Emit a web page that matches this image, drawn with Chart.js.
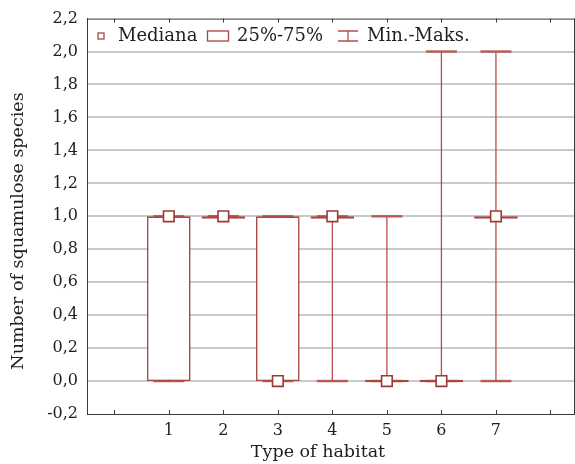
<!DOCTYPE html>
<html>
<head>
<meta charset="utf-8">
<script src="https://cdn.jsdelivr.net/npm/chart.js@4/dist/chart.umd.min.js"></script>
<style>
  html, body { margin: 0; padding: 0; background: #fff; }
  #wrap { width: 575px; height: 464px; position: relative; }
</style>
</head>
<body>
<div id="wrap"><canvas id="c" width="575" height="464"></canvas></div>
<script>
// ---- data ----
const habitats = [1, 2, 3, 4, 5, 6, 7];
const medians  = [1, 1, 0, 1, 0, 0, 1];
const q25      = [0, 1, 0, 1, 0, 0, 1];
const q75      = [1, 1, 1, 1, 0, 0, 1];
const mins     = [0, 1, 0, 0, 0, 0, 0];
const maxs     = [1, 1, 1, 1, 1, 2, 2];
const xTickLabels = ['1', '2', '3', '4', '5', '6', '7'];
const legendLabels = ['Mediana', '25%-75%', 'Min.-Maks.'];
const xTitle = 'Type of habitat';
const yTitle = 'Number of squamulose species';

// ---- styles ----
const FONT = '"DejaVu Serif", "Liberation Serif", serif';
const BOX_COLOR = '#a8463f';
const WHISKER_COLOR = '#b5504a';
const TEXT_COLOR = '#1e1e1e';
const AXIS_COLOR = '#3a3a3a';
const GRID_COLOR = '#c9c9c9';

const boxData = habitats.map((h, i) => ({ x: h, y: [q25[i], q75[i]] }));
const medianData = habitats.map((h, i) => ({ x: h, y: medians[i] }));

const whiskerPlugin = {
  id: 'whiskers',
  beforeDatasetsDraw(chart) {
    const { ctx, scales: { x, y } } = chart;
    ctx.save();
    habitats.forEach((h, i) => {
      const px = x.getPixelForValue(h);
      const yMin = y.getPixelForValue(mins[i]);
      const yMax = y.getPixelForValue(maxs[i]);
      ctx.strokeStyle = WHISKER_COLOR;
      ctx.lineWidth = 1.3;
      ctx.beginPath();
      ctx.moveTo(px, yMin);
      ctx.lineTo(px, yMax);
      ctx.stroke();
      ctx.lineWidth = 2.4;
      ctx.strokeStyle = '#b85a54';
      [yMin, yMax].forEach(py => {
        ctx.beginPath();
        ctx.moveTo(px - 15.5, py);
        ctx.lineTo(px + 15.5, py);
        ctx.stroke();
      });
    });
    ctx.restore();
  }
};

const framePlugin = {
  id: 'frame',
  afterDatasetsDraw(chart) {
    const { ctx, chartArea: a, scales: { x, y } } = chart;
    ctx.save();
    ctx.strokeStyle = AXIS_COLOR;
    ctx.lineWidth = 1;
    ctx.beginPath();
    ctx.moveTo(a.left, a.top + 0.5);
    ctx.lineTo(a.right, a.top + 0.5);
    ctx.moveTo(a.right - 0.5, a.top);
    ctx.lineTo(a.right - 0.5, a.bottom);
    ctx.stroke();
    // inward ticks on top and bottom
    ctx.beginPath();
    for (let v = 0; v <= 8; v++) {
      const px = Math.round(x.getPixelForValue(v)) + 0.5;
      ctx.moveTo(px, a.bottom);
      ctx.lineTo(px, a.bottom - 4);
      ctx.moveTo(px, a.top);
      ctx.lineTo(px, a.top + 4);
    }
    ctx.stroke();

    // legend
    const ly = 36;
    ctx.font = '18px ' + FONT;
    ctx.textBaseline = 'middle';
    ctx.textAlign = 'left';
    ctx.strokeStyle = BOX_COLOR;
    ctx.lineWidth = 1.3;
    ctx.fillStyle = '#fff';
    ctx.fillRect(98, ly - 3, 6, 6);
    ctx.strokeRect(98, ly - 3, 6, 6);
    ctx.fillStyle = TEXT_COLOR;
    ctx.fillText(legendLabels[0], 118, ly);
    ctx.strokeRect(207.5, ly - 5, 21, 10);
    ctx.fillText(legendLabels[1], 237, ly);
    ctx.strokeStyle = WHISKER_COLOR;
    ctx.beginPath();
    ctx.moveTo(338, ly - 5); ctx.lineTo(358, ly - 5);
    ctx.moveTo(338, ly + 5); ctx.lineTo(358, ly + 5);
    ctx.moveTo(348, ly - 5); ctx.lineTo(348, ly + 5);
    ctx.stroke();
    ctx.fillText(legendLabels[2], 367, ly);

    // axis titles
    ctx.font = '17.5px ' + FONT;
    ctx.textAlign = 'center';
    ctx.fillText(xTitle, 318, 452);
    ctx.translate(18, 231);
    ctx.rotate(-Math.PI / 2);
    ctx.fillText(yTitle, 0, 0);
    ctx.restore();
  }
};

new Chart(document.getElementById('c'), {
  type: 'bar',
  data: {
    datasets: [
      {
        type: 'line',
        label: legendLabels[0],
        data: medianData,
        showLine: false,
        pointStyle: 'rect',
        pointRadius: 7.5,
        pointBackgroundColor: '#ffffff',
        pointBorderColor: '#9c3a34',
        pointBorderWidth: 1.6,
        clip: false,
        order: 0
      },
      {
        label: legendLabels[1],
        data: boxData,
        backgroundColor: '#ffffff',
        borderColor: BOX_COLOR,
        borderWidth: 1.6,
        borderSkipped: false,
        minBarLength: 2.4,
        barPercentage: 0.8,
        categoryPercentage: 1,
        order: 1
      }
    ]
  },
  options: {
    responsive: false,
    animation: false,
    events: [],
    layout: { autoPadding: false, padding: { top: 17, right: 0, left: 0, bottom: 0 } },
    plugins: { legend: { display: false }, tooltip: { enabled: false } },
    scales: {
      x: {
        type: 'linear',
        min: -0.5,
        max: 8.45,
        offset: false,
        afterFit(s) { s.height = 50; s.paddingRight = 0; s.paddingLeft = 0; },
        afterBuildTicks(s) {
          s.ticks = habitats.map(v => ({ value: v }));
        },
        ticks: {
          autoSkip: false,
          maxRotation: 0,
          padding: 7,
          color: TEXT_COLOR,
          font: { family: FONT, size: 16 },
          callback: (v, i) => xTickLabels[i]
        },
        grid: { display: false, drawTicks: false, offset: false },
        border: { display: true, color: AXIS_COLOR, width: 1 }
      },
      y: {
        type: 'linear',
        min: -0.2,
        max: 2.2,
        afterFit(s) { s.width = 87; },
        ticks: {
          stepSize: 0.2,
          padding: 9,
          color: TEXT_COLOR,
          font: { family: FONT, size: 16 },
          callback: v => v.toFixed(1).replace('.', ',')
        },
        grid: {
          drawTicks: false,
          lineWidth: 2,
          color: ctx => (ctx.tick && (Math.abs(ctx.tick.value + 0.2) < 1e-6 || Math.abs(ctx.tick.value - 2.2) < 1e-6)) ? 'rgba(0,0,0,0)' : GRID_COLOR
        },
        border: { display: true, color: AXIS_COLOR, width: 1 }
      }
    }
  },
  plugins: [whiskerPlugin, framePlugin]
});
</script>
</body>
</html>
